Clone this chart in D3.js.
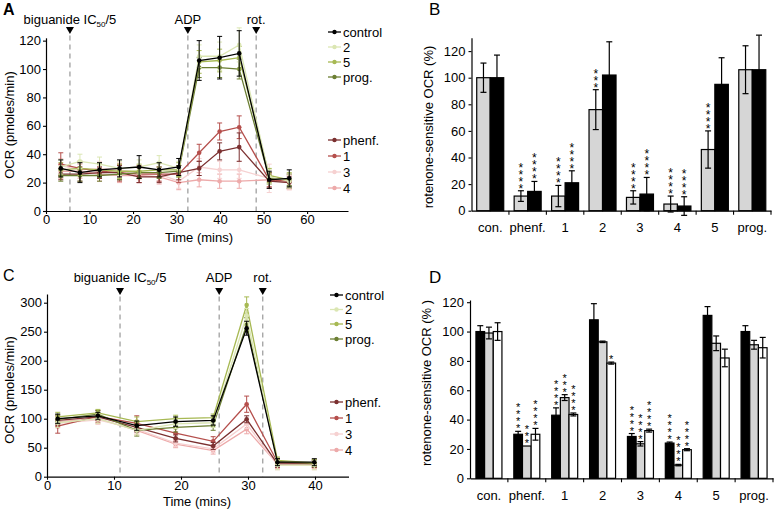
<!DOCTYPE html>
<html><head><meta charset="utf-8">
<script src="https://cdn.jsdelivr.net/npm/d3@7"></script>
<style>body{margin:0;background:#fff} text{font-family:"Liberation Sans",Arial,Helvetica,sans-serif}
text.stars{writing-mode:vertical-rl;text-orientation:upright}</style>
</head><body><svg id="c" width="778" height="510"></svg>
<script>
// ---------- data ----------
const seriesNames = ["control","2","5","prog.","phenf.","1","3","4"];
const seriesColors = ["#000000","#dbe6b3","#a7b953","#6c7f33","#7b3030","#b54f4c","#f6d1d1","#edaaaa"];
const drawOrder = [7,6,5,4,3,2,1,0];

// Panel A
const aTimes = [3.4, 7.8, 12.3, 16.9, 21.4, 26.0, 30.5, 35.2, 39.9, 44.4, 51.3, 55.9];
const aControl = [30, 27, 29, 30, 31, 29, 31, 106, 108, 111, 22, 23];
const aS2      = [31, 35, 33, 30, 31, 34, 30, 109, 109, 117, 24, 21];
const aS5      = [29, 30, 29, 28, 28, 29, 29, 105, 106, 108, 25, 22];
const aProg    = [25, 25, 25, 26, 27, 27, 28, 101, 101, 100, 23, 22];
const aPhenf   = [26, 26, 27, 27, 24, 24, 27, 30, 42, 45, 21, 20];
const aS1      = [33, 30, 28, 27, 26, 26, 26, 41, 56, 59, 22, 21];
const aS3      = [32, 29, 30, 29, 27, 26, 21, 31, 29, 29, 23, 20];
const aS4      = [28, 28, 26, 25, 25, 24, 20, 22, 21, 21, 22, 20];
const aErrControl = [6, 7, 5, 6, 8, 5, 6, 14, 15, 16, 6, 6];
const aErrS2      = [5, 5, 5, 5, 5, 5, 5, 8, 10, 12, 5, 5];
const aErrS5      = [5, 5, 5, 5, 5, 5, 5, 8, 8, 8, 5, 5];
const aErrProg    = [4, 4, 4, 4, 4, 4, 4, 7, 7, 7, 4, 4];
const aErrPhenf   = [4, 5, 4, 5, 4, 4, 5, 5, 6, 10, 5, 4];
const aErrS1      = [8, 5, 5, 6, 6, 5, 6, 6, 6, 8, 5, 5];
const aErrS3      = [5, 5, 5, 5, 5, 5, 5, 6, 6, 6, 10, 5];
const aErrS4      = [5, 5, 5, 5, 5, 5, 5, 5, 5, 5, 5, 5];
const aEventTimes = [5.5, 32.6, 48.3];
const aXTicks = [0, 10, 20, 30, 40, 50, 60];
const aYTicks = [0, 20, 40, 60, 80, 100, 120];

// Panel C
const cTimes = [1.6, 7.6, 13.4, 19.2, 24.8, 29.8, 34.4, 39.9];
const cControl = [100, 105, 88, 95, 97, 256, 25, 25];
const cS2      = [93, 100, 80, 91, 93, 278, 20, 20];
const cS5      = [103, 110, 95, 100, 102, 296, 28, 24];
const cProg    = [99, 108, 80, 85, 88, 262, 26, 23];
const cPhenf   = [97, 103, 85, 66, 53, 99, 22, 22];
const cS1      = [87, 104, 92, 75, 61, 125, 25, 22];
const cS3      = [92, 98, 82, 58, 48, 91, 20, 20];
const cS4      = [95, 100, 80, 56, 45, 82, 22, 22];
const cErrControl = [8, 6, 8, 8, 8, 12, 6, 6];
const cErrS2      = [8, 8, 8, 8, 8, 12, 8, 8];
const cErrS5      = [8, 6, 8, 6, 6, 14, 6, 6];
const cErrProg    = [8, 6, 10, 8, 8, 12, 6, 6];
const cErrPhenf   = [8, 6, 8, 6, 6, 6, 6, 6];
const cErrS1      = [12, 10, 13, 8, 8, 14, 6, 6];
const cErrS3      = [8, 8, 8, 6, 6, 8, 8, 8];
const cErrS4      = [8, 8, 8, 6, 6, 8, 8, 8];
const cEventTimes = [10.9, 25.7, 32.2];
const cXTicks = [0, 10, 20, 30, 40];
const cYTicks = [0, 50, 100, 150, 200, 250, 300];

const eventLabels = ["biguanide IC", "ADP", "rot."];

// Panel B
const barCategories = ["con.","phenf.","1","2","3","4","5","prog."];
const bGray      = [100, 11, 11, 76, 10, 5, 46, 106];
const bGrayErr   = [11, 4, 8, 15, 5, 6, 14, 18];
const bBlack     = [100, 14.5, 21, 102, 12.5, 3.5, 95, 106];
const bBlackErr  = [17, 7.5, 9, 25, 12.5, 7, 20, 26];
const bGrayStars  = ["", "****", "****", "***", "****", "****", "****", ""];
const bBlackStars = ["", "****", "****", "", "****", "****", "", ""];
const bYTicks = [0, 20, 40, 60, 80, 100, 120];

// Panel D
const dBlack    = [100, 30, 43, 108, 28.5, 24, 111, 100];
const dBlackErr = [4, 2, 5, 11, 2, 0.7, 6, 4];
const dGray     = [99, 22, 55, 93, 23.5, 9, 92, 91];
const dGrayErr  = [4, 0, 2, 0.5, 1.5, 0.5, 5, 3];
const dWhite    = [100, 30, 43.5, 78.5, 32.5, 19.5, 82, 89];
const dWhiteErr = [6, 4, 1, 0.7, 1, 0.7, 6, 7];
const dBlackStars = ["", "****", "****", "", "****", "****", "", ""];
const dGrayStars  = ["", "***", "***", "", "****", "****", "", ""];
const dWhiteStars = ["", "****", "****", "*", "****", "****", "", ""];
const dYTicks = [0, 20, 40, 60, 80, 100, 120];

// ---------- drawing ----------
const FONT = '"Liberation Sans",Arial,Helvetica,sans-serif';
const svg = d3.select("#c");

function styleAxis(g, fs) {
  g.attr("font-family", FONT).attr("font-size", fs);
  g.selectAll("path.domain").attr("stroke", "#000").attr("stroke-width", 1.2);
  g.selectAll(".tick line").attr("stroke", "#000").attr("stroke-width", 1.1);
  g.selectAll(".tick text").attr("fill", "#000");
}

function drawLinePanel(o) {
  const g = svg.append("g");
  const x = d3.scaleLinear().domain(o.xDomain).range(o.xRange);
  const y = d3.scaleLinear().domain(o.yDomain).range(o.yRange);

  o.events.forEach((t, i) => {
    const ex = x(t);
    g.append("line").attr("x1", ex).attr("x2", ex).attr("y1", o.triY + 5).attr("y2", y(0))
      .attr("stroke", "#a0a0a0").attr("stroke-width", 1.3).attr("stroke-dasharray", "5,4");
    g.append("path").attr("d", `M${ex-4},${o.triY-3.5}L${ex+4},${o.triY-3.5}L${ex},${o.triY+3.5}Z`).attr("fill", "#000");
    const tx = g.append("text").attr("x", ex).attr("y", o.labelY).attr("text-anchor", "middle")
      .attr("font-size", 13).attr("fill", "#000");
    if (i === 0) {
      tx.append("tspan").text(eventLabels[0]);
      tx.append("tspan").attr("font-size", 8).attr("dy", 3).text("50");
      tx.append("tspan").attr("dy", -3).text("/5");
    } else tx.text(eventLabels[i]);
  });

  drawOrder.forEach(si => {
    const vals = o.values[si], errs = o.errors[si], col = seriesColors[si];
    const pts = o.times.map((t, k) => ({t, v: vals[k], e: errs[k]}));
    g.append("path").datum(pts)
      .attr("d", d3.line().x(d => x(d.t)).y(d => y(d.v)))
      .attr("fill", "none").attr("stroke", col).attr("stroke-width", 1.3);
    const eg = g.append("g").attr("stroke", col).attr("stroke-width", 1);
    pts.forEach(d => {
      const cx = x(d.t);
      eg.append("line").attr("x1", cx).attr("x2", cx).attr("y1", y(d.v - d.e)).attr("y2", y(d.v + d.e));
      eg.append("line").attr("x1", cx - 2.5).attr("x2", cx + 2.5).attr("y1", y(d.v + d.e)).attr("y2", y(d.v + d.e));
      eg.append("line").attr("x1", cx - 2.5).attr("x2", cx + 2.5).attr("y1", y(d.v - d.e)).attr("y2", y(d.v - d.e));
    });
    g.append("g").selectAll("circle").data(pts).join("circle")
      .attr("cx", d => x(d.t)).attr("cy", d => y(d.v)).attr("r", 2.3).attr("fill", col);
  });

  const ya = g.append("g").attr("transform", `translate(${o.xRange[0]},0)`)
    .call(d3.axisLeft(y).tickValues(o.yTicks).tickSize(3).tickPadding(2).tickSizeOuter(0));
  styleAxis(ya, 13);
  const xa = g.append("g").attr("transform", `translate(0,${o.yRange[0]})`)
    .call(d3.axisBottom(x).tickValues(o.xTicks).tickSize(3).tickPadding(1).tickSizeOuter(0));
  styleAxis(xa, 13);

  g.append("text").attr("transform", `translate(${o.yTitleX},${o.yTitleY}) rotate(-90)`)
    .attr("text-anchor", "middle").attr("font-size", 13).text("OCR (pmoles/min)");
  g.append("text").attr("x", o.xTitleX).attr("y", o.xTitleY).attr("text-anchor", "middle")
    .attr("font-size", 13).text("Time (mins)");

  o.legendRows.forEach((ly, si) => {
    const lx = o.legendX, col = seriesColors[si];
    g.append("line").attr("x1", lx).attr("x2", lx + 13).attr("y1", ly).attr("y2", ly)
      .attr("stroke", col).attr("stroke-width", 1.3);
    g.append("circle").attr("cx", lx + 6.5).attr("cy", ly).attr("r", 2.2).attr("fill", col);
    g.append("text").attr("x", lx + 15).attr("y", ly + 4.5).attr("font-size", 13).text(seriesNames[si]);
  });

  g.append("text").attr("x", o.letterX).attr("y", o.letterY).attr("font-size", 16).attr("font-weight", o.letterWeight || "normal").text(o.letter);
}

function drawBarPanel(o) {
  const g = svg.append("g");
  const x = d3.scaleBand().domain(barCategories).range(o.xRange).paddingInner(0).paddingOuter(0);
  const inner = d3.scaleBand().domain(d3.range(o.groups.length)).range([0, o.groupWidth]);
  const off = (x.bandwidth() - o.groupWidth) / 2;
  const y = d3.scaleLinear().domain(o.yDomain).range(o.yRange);
  const starLayer = g.append("g");

  o.groups.forEach((grp, gi) => {
    barCategories.forEach((c, ci) => {
      const bx = x(c) + off + inner(gi), bw = inner.bandwidth();
      const v = grp.values[ci], e = grp.errors[ci];
      g.append("rect").attr("x", bx).attr("y", y(v)).attr("width", bw).attr("height", y(0) - y(v))
        .attr("fill", grp.fill).attr("stroke", "#000").attr("stroke-width", 1.2);
      const cx = bx + bw / 2;
      if (e > 0) {
        g.append("line").attr("x1", cx).attr("x2", cx).attr("y1", y(v - e)).attr("y2", y(v + e)).attr("stroke", "#000").attr("stroke-width", 1.2);
        g.append("line").attr("x1", cx - 3).attr("x2", cx + 3).attr("y1", y(v + e)).attr("y2", y(v + e)).attr("stroke", "#000").attr("stroke-width", 1.2);
        g.append("line").attr("x1", cx - 3).attr("x2", cx + 3).attr("y1", y(v - e)).attr("y2", y(v - e)).attr("stroke", "#000").attr("stroke-width", 1.2);
      }
      const s = grp.stars[ci];
      if (s) {
        starLayer.append("text").attr("class", "stars")
          .attr("x", cx).attr("y", y(v + e) - 2)
          .attr("text-anchor", "end")
          .attr("font-size", o.starFs).attr("letter-spacing", o.starSpacing).attr("fill", "#000").text(s);
      }
    });
  });
  starLayer.raise();

  const ya = g.append("g").attr("transform", `translate(${o.xRange[0]},0)`)
    .call(d3.axisLeft(y).tickValues(o.yTicks).tickSize(3).tickPadding(3).tickSizeOuter(0));
  styleAxis(ya, 13);
  const xa = g.append("g").attr("transform", `translate(0,${o.yRange[0]})`)
    .call(d3.axisBottom(x).tickSize(0).tickPadding(12).tickSizeOuter(0));
  styleAxis(xa, 13);
  barCategories.forEach((c, ci) => {
    if (ci === 0) return;
    g.append("line").attr("x1", x(c)).attr("x2", x(c)).attr("y1", o.yRange[0]).attr("y2", o.yRange[0] + 4)
      .attr("stroke", "#000").attr("stroke-width", 1.1);
  });
  g.append("line").attr("x1", o.xRange[1]).attr("x2", o.xRange[1]).attr("y1", o.yRange[0]).attr("y2", o.yRange[0] + 4)
    .attr("stroke", "#000").attr("stroke-width", 1.1);

  g.append("text").attr("transform", `translate(${o.yTitleX},${o.yTitleY}) rotate(-90)`)
    .attr("text-anchor", "middle").attr("font-size", 13).text(o.yTitle);
  g.append("text").attr("x", o.letterX).attr("y", o.letterY).attr("font-size", 17).text(o.letter);
}

drawLinePanel({
  letter: "A", letterX: 3, letterY: 15, letterWeight: "bold",
  xDomain: [0, 69.4], xRange: [46, 348], yDomain: [0, 122], yRange: [211, 37.8],
  times: aTimes,
  values: [aControl, aS2, aS5, aProg, aPhenf, aS1, aS3, aS4],
  errors: [aErrControl, aErrS2, aErrS5, aErrProg, aErrPhenf, aErrS1, aErrS3, aErrS4],
  events: aEventTimes, triY: 30.5, labelY: 23.5,
  xTicks: aXTicks, yTicks: aYTicks,
  yTitleX: 14, yTitleY: 125, xTitleX: 199, xTitleY: 242,
  legendX: 328, legendRows: [32, 47, 62, 77, 140, 156, 172, 188]
});

drawLinePanel({
  letter: "C", letterX: 3, letterY: 281,
  xDomain: [0, 45], xRange: [47, 348.5], yDomain: [0, 315], yRange: [476.7, 294],
  times: cTimes,
  values: [cControl, cS2, cS5, cProg, cPhenf, cS1, cS3, cS4],
  errors: [cErrControl, cErrS2, cErrS5, cErrProg, cErrPhenf, cErrS1, cErrS3, cErrS4],
  events: cEventTimes, triY: 291.5, labelY: 281.5,
  xTicks: cXTicks, yTicks: cYTicks,
  yTitleX: 14, yTitleY: 390, xTitleX: 197, xTitleY: 506,
  legendX: 330, legendRows: [295, 309.5, 324, 339, 402, 418, 434, 450]
});

drawBarPanel({
  letter: "B", letterX: 429, letterY: 15,
  xRange: [471.5, 771], yDomain: [0, 130], yRange: [210.7, 37.8],
  groupWidth: 27, starFs: 12, starSpacing: -7,
  groups: [
    {values: bGray, errors: bGrayErr, fill: "#d6d6d6", stars: bGrayStars},
    {values: bBlack, errors: bBlackErr, fill: "#000000", stars: bBlackStars}
  ],
  yTicks: bYTicks, yTitle: "rotenone-sensitive OCR (%)", yTitleX: 433, yTitleY: 127
});

drawBarPanel({
  letter: "D", letterX: 429, letterY: 283,
  xRange: [470, 773], yDomain: [0, 121.5], yRange: [478.3, 300],
  groupWidth: 26, starFs: 11, starSpacing: -5,
  groups: [
    {values: dBlack, errors: dBlackErr, fill: "#000000", stars: dBlackStars},
    {values: dGray, errors: dGrayErr, fill: "#d6d6d6", stars: dGrayStars},
    {values: dWhite, errors: dWhiteErr, fill: "#ffffff", stars: dWhiteStars}
  ],
  yTicks: dYTicks, yTitle: "rotenone-sensitive OCR (% )", yTitleX: 431, yTitleY: 383
});
</script></body></html>
